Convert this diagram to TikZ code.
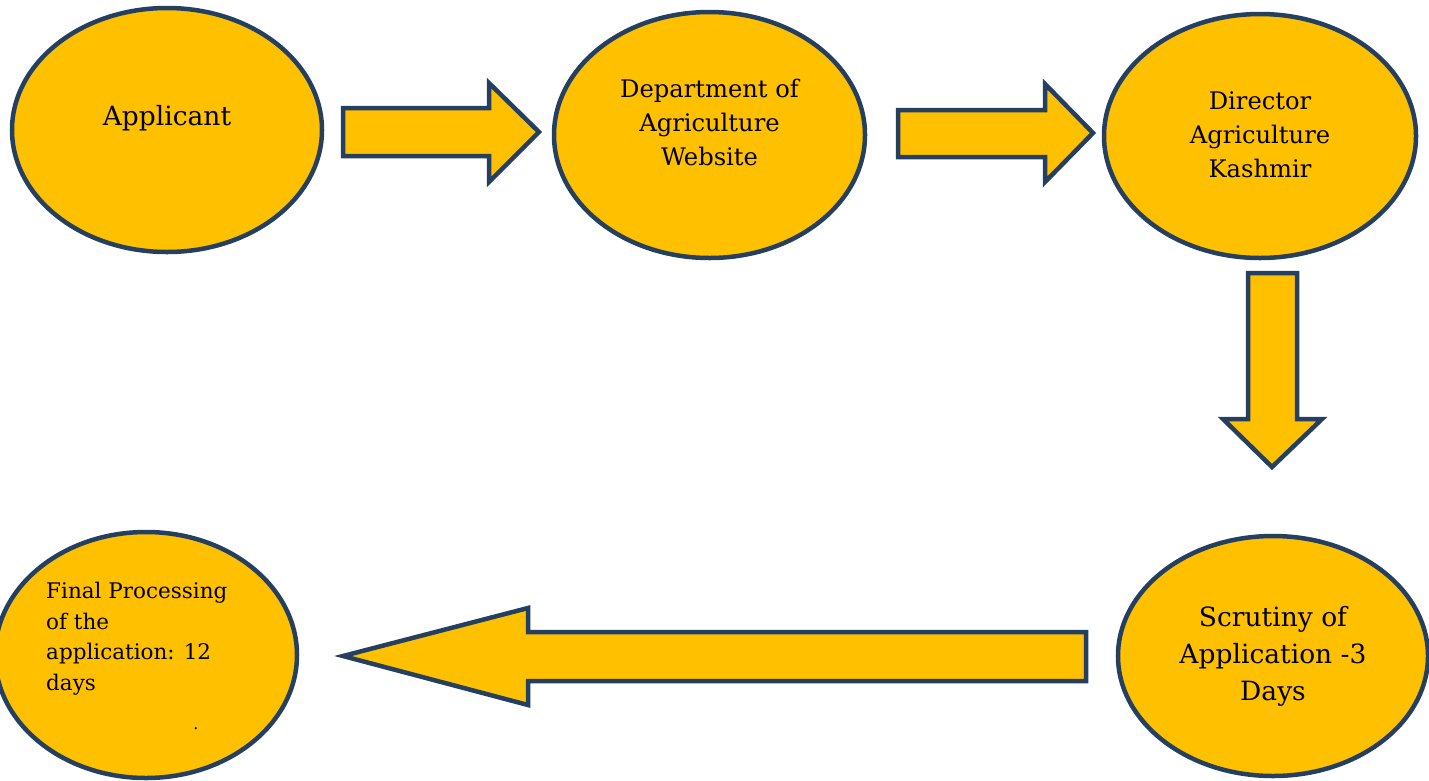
\documentclass[tikz,border=0pt]{standalone}
\usepackage{fontspec}
\setmainfont{DejaVu Serif}
\usetikzlibrary{shapes.geometric}
\definecolor{gold}{HTML}{FFC000}
\definecolor{navy}{HTML}{243F60}
\begin{document}
\begin{tikzpicture}[x=1pt,y=-1pt,
  oval/.style={ellipse, draw=navy, fill=gold, line width=4.5pt, inner sep=0pt},
  blockarrow/.style={draw=navy, fill=gold, line width=4.5pt, line join=miter},
  bigtxt/.style={align=center, font=\fontsize{26.5}{37}\selectfont, inner sep=0pt},
  midtxt/.style={align=center, font=\fontsize{24.2}{34}\selectfont, inner sep=0pt},
  smalltxt/.style={align=left, font=\fontsize{21.5}{30.5}\selectfont, inner sep=0pt, anchor=north west}]
\useasboundingbox (0,0) rectangle (1429,780);
% ellipses
\node[oval, minimum width=310pt, minimum height=244pt] (e1) at (167,130) {};
\node[oval, minimum width=311pt, minimum height=246pt] (e2) at (709.5,135) {};
\node[oval, minimum width=312pt, minimum height=244pt] (e3) at (1260,136) {};
\node[oval, minimum width=310pt, minimum height=240pt] (e4) at (1273,656) {};
\node[oval, minimum width=302pt, minimum height=246pt] (e5) at (146,655) {};
% texts
\node[bigtxt] (t1) at (167,118) {Applicant};
\node[midtxt] (t2) at (709.5,122) {Department of\\Agriculture\\Website};
\node[midtxt] (t3) at (1260,135) {Director\\Agriculture\\Kashmir};
\node[bigtxt] (t4) at (1273,656) {Scrutiny of\\Application -3\\Days};
\node[smalltxt] (t5) at (46,582) {Final Processing\\of the\\application: 12\\days};
\node[inner sep=0pt, font=\fontsize{16}{16}\selectfont] (dot) at (196,729) {.};
% block arrows
\draw[blockarrow] (343,108) -- (489,108) -- (489,83) -- (539,132) -- (489,182) -- (489,156) -- (343,156) -- cycle;
\draw[blockarrow] (898,110) -- (1045,110) -- (1045,84) -- (1093,133) -- (1045,182) -- (1045,157) -- (898,157) -- cycle;
\draw[blockarrow] (1248,273) -- (1297,273) -- (1297,419) -- (1322,419) -- (1272,467) -- (1223,419) -- (1248,419) -- cycle;
\draw[blockarrow] (1086,632) -- (528,632) -- (528,608) -- (343,656) -- (528,705) -- (528,681) -- (1086,681) -- cycle;
\end{tikzpicture}
\end{document}
